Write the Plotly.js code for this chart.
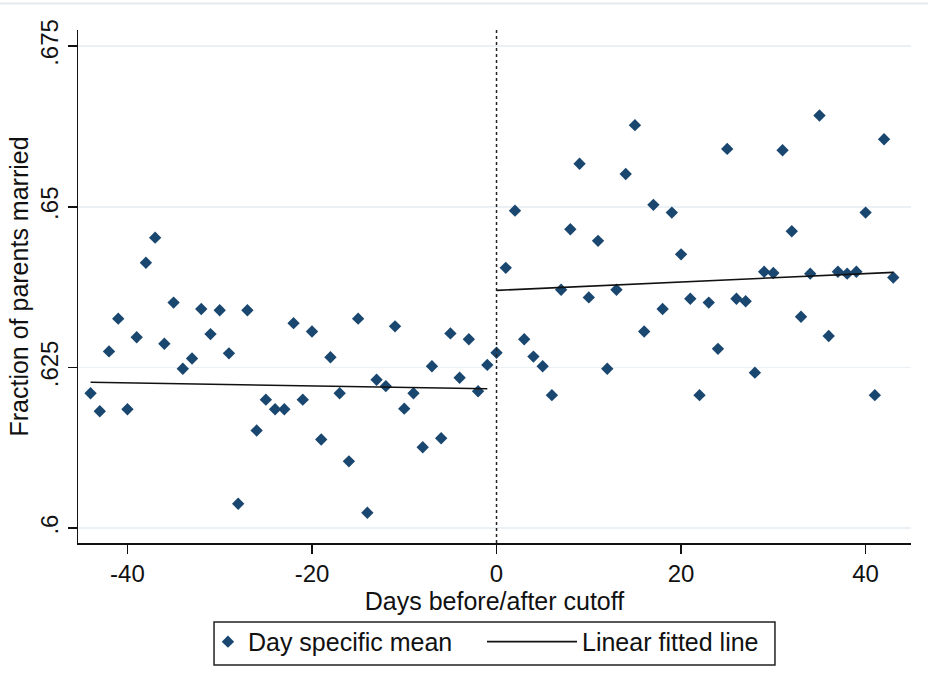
<!DOCTYPE html>
<html>
<head>
<meta charset="utf-8">
<script src="https://cdn.plot.ly/plotly-3.0.1.min.js"></script>
<style>html,body{margin:0;padding:0;background:#fff;}#chart{width:928px;height:695px;}</style>
</head>
<body>
<div id="chart"></div>
<script>
// Days before the cutoff and day-specific means
const daysBefore = [-44,-43,-42,-41,-40,-39,-38,-37,-36,-35,-34,-33,-32,-31,-30,-29,-28,-27,-26,-25,-24,-23,-22,-21,-20,-19,-18,-17,-16,-15,-14,-13,-12,-11,-10,-9,-8,-7,-6,-5,-4,-3,-2,-1];
const meanBefore = [0.6210,0.6182,0.6275,0.6326,0.6185,0.6297,0.6413,0.6452,0.6287,0.6351,0.6248,0.6264,0.6341,0.6302,0.6339,0.6272,0.6038,0.6339,0.6152,0.6200,0.6185,0.6185,0.6319,0.6200,0.6306,0.6138,0.6266,0.6210,0.6104,0.6326,0.6024,0.6231,0.6221,0.6314,0.6186,0.6210,0.6126,0.6252,0.6140,0.6303,0.6234,0.6294,0.6213,0.6254];
// Days after the cutoff and day-specific means
const daysAfter = [0,1,2,3,4,5,6,7,8,9,10,11,12,13,14,15,16,17,18,19,20,21,22,23,24,25,26,27,28,29,30,31,32,33,34,35,36,37,38,39,40,41,42,43];
const meanAfter = [0.6273,0.6405,0.6494,0.6294,0.6267,0.6252,0.6207,0.6371,0.6465,0.6567,0.6359,0.6447,0.6248,0.6371,0.6551,0.6627,0.6306,0.6503,0.6341,0.6491,0.6426,0.6357,0.6207,0.6351,0.6279,0.6590,0.6357,0.6353,0.6242,0.6399,0.6397,0.6588,0.6462,0.6329,0.6396,0.6642,0.6299,0.6399,0.6396,0.6399,0.6491,0.6207,0.6605,0.6390];
// Linear fitted line end points on each side of the cutoff
const fitBeforeX = [-44,-1];
const fitBeforeY = [0.6227,0.6217];
const fitAfterX = [0,43];
const fitAfterY = [0.6370,0.6398];
// Axis ticks
const xTicks = [-40,-20,0,20,40];
const xTickText = ['-40','-20','0','20','40'];
const yTicks = [0.6,0.625,0.65,0.675];
const yTickText = ['.6','.625','.65','.675'];

const navy = '#1a476f';
const font = 'Liberation Sans, Arial, sans-serif';
const fs = 24;
const ft = 25;

const traces = [
  {x: daysBefore, y: meanBefore, type:'scatter', mode:'markers', name:'Day specific mean', legend:'legend', legendgroup:'m',
   marker:{symbol:'diamond', size:9.5, color:navy}},
  {x: daysAfter, y: meanAfter, type:'scatter', mode:'markers', name:'Day specific mean', legend:'legend', legendgroup:'m', showlegend:false,
   marker:{symbol:'diamond', size:9.5, color:navy}},
  {x: fitBeforeX, y: fitBeforeY, type:'scatter', mode:'lines', name:'Linear fitted line', legend:'legend2', legendgroup:'f',
   line:{color:'#111', width:1.6}},
  {x: fitAfterX, y: fitAfterY, type:'scatter', mode:'lines', name:'Linear fitted line', legend:'legend2', legendgroup:'f', showlegend:false,
   line:{color:'#111', width:1.6}}
];

const layout = {
  width:928, height:695,
  margin:{l:78, r:17, t:30, b:152},
  paper_bgcolor:'#fff', plot_bgcolor:'#fff',
  font:{family:font, color:'#111', size:fs},
  showlegend:true,
  xaxis:{
    range:[-45.36,44.92], tickvals:xTicks, ticktext:xTickText, ticks:'outside', ticklen:9, tickwidth:1.5, tickcolor:'#111',
    showline:true, linecolor:'#111', linewidth:1.5, showgrid:false, zeroline:false,
    tickfont:{size:fs}, title:{text:'Days before/after cutoff', font:{size:ft}, standoff:0}
  },
  yaxis:{
    range:[0.5977,0.6775], tickvals:yTicks, ticktext:yTickText, tickangle:-90, ticks:'outside', ticklen:9, tickwidth:1.5, tickcolor:'#111',
    showline:true, linecolor:'#111', linewidth:1.5, showgrid:true, gridcolor:'#eaf0f4', gridwidth:1.5, zeroline:false,
    tickfont:{size:fs}, title:{text:'Fraction of parents married', font:{size:ft}, standoff:0}
  },
  legend:{orientation:'h', x:0.156, xanchor:'left', y:-0.148, yanchor:'top',
    borderwidth:0, bgcolor:'rgba(0,0,0,0)', font:{size:ft}, itemwidth:30},
  legend2:{orientation:'h', x:0.485, xanchor:'left', y:-0.148, yanchor:'top',
    borderwidth:0, bgcolor:'rgba(0,0,0,0)', font:{size:ft}, itemwidth:90},
  shapes:[
    {type:'line', xref:'x', yref:'paper', x0:0, x1:0, y0:0, y1:1, line:{color:'#222', width:1.5, dash:'3px,3px'}},
    {type:'line', xref:'paper', yref:'paper', x0:-0.094, x1:1.021, y0:1.0517, y1:1.0517, line:{color:'#e6ebef', width:2}},
    {type:'rect', xref:'paper', yref:'paper', x0:0.1633, x1:0.8367, y0:-0.2378, y1:-0.154, line:{color:'#222', width:1.5}, fillcolor:'rgba(0,0,0,0)'}
  ]
};

Plotly.newPlot('chart', traces, layout, {displayModeBar:false, staticPlot:true});
</script>
</body>
</html>
